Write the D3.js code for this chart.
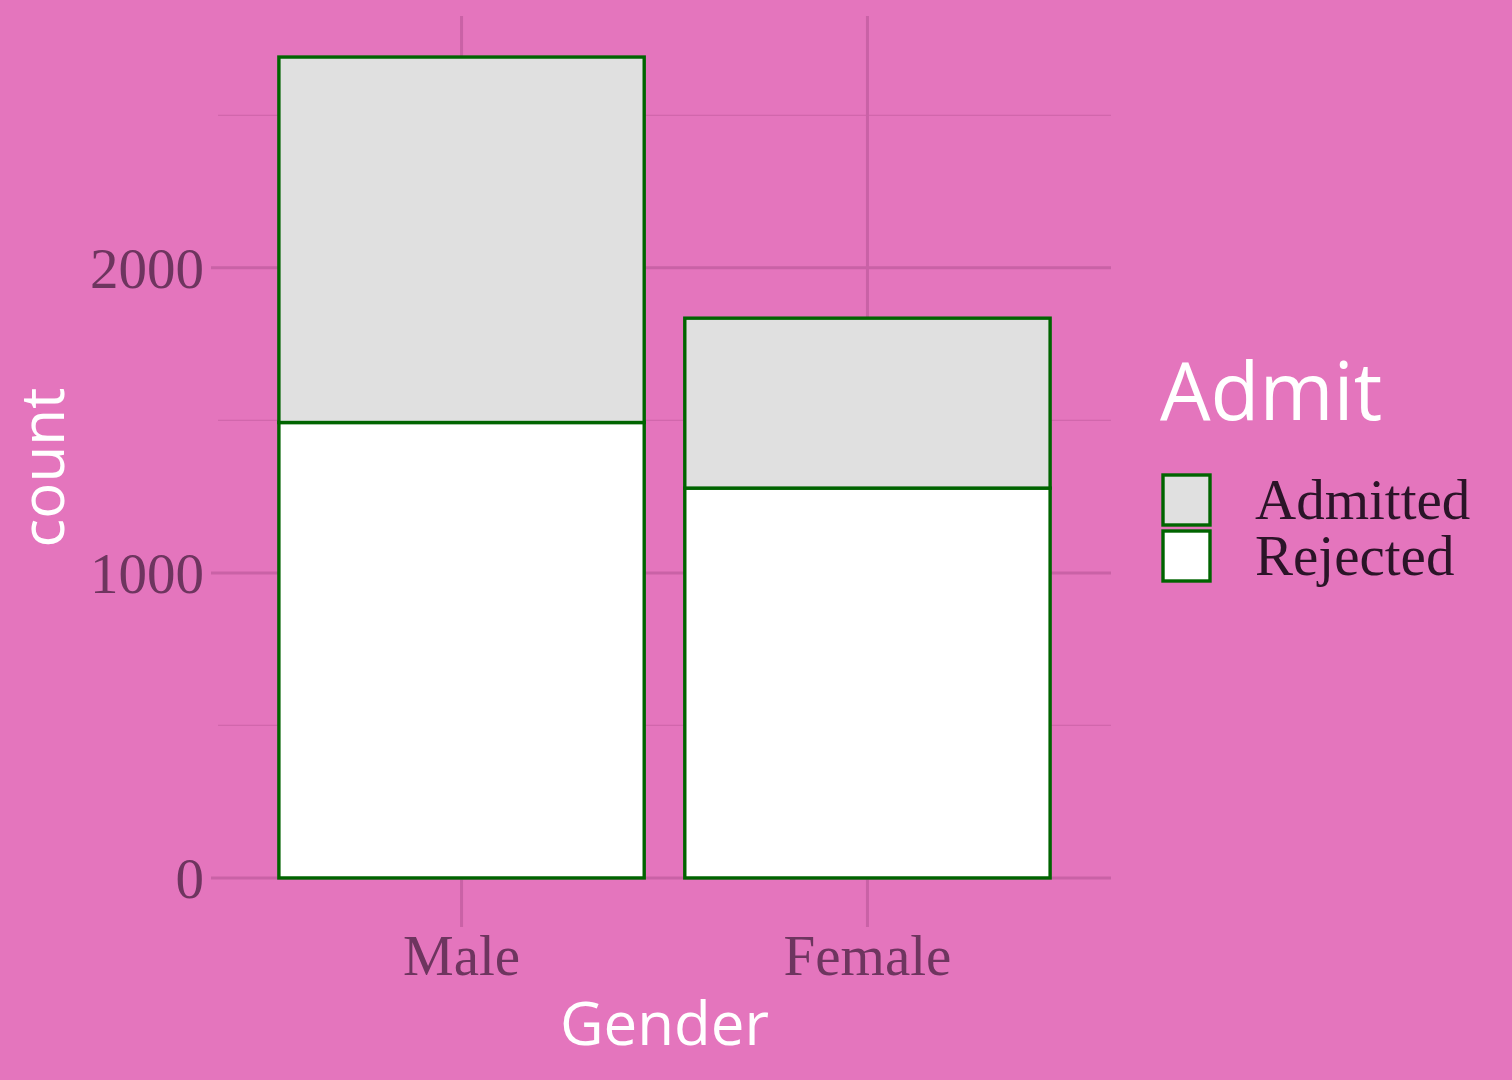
<!DOCTYPE html>
<html><head><meta charset="utf-8">
<script src="https://cdn.jsdelivr.net/npm/d3@7"></script>
<style>html,body{margin:0;padding:0;background:#E475BD;}</style>
</head><body>
<script>
const categories = ["Male", "Female"];
const admitLevels = ["Admitted", "Rejected"];
const admitted = [1198, 557];
const rejected = [1493, 1278];
const yTicks = [0, 1000, 2000];
const yMinor = [500, 1500, 2500];

const W = 1512, H = 1080;
const bg = "#E475BD", grid = "#C962A6", tickCol = "#6E355F";
const serif = "'Liberation Serif', 'DejaVu Serif', serif";
const sans = "'Open Sans', 'Noto Sans', sans-serif";

const svg = d3.select("body").append("svg").attr("width", W).attr("height", H);
svg.append("rect").attr("width", W).attr("height", H).attr("fill", bg);

const panel = {l: 218, r: 1111, t: 16, b: 919};
const totals = categories.map((c, i) => admitted[i] + rejected[i]);
const maxT = d3.max(totals);
const y = d3.scaleLinear().domain([-maxT * 0.05, maxT * 1.05]).range([panel.b, panel.t]);
const xi = d3.scaleLinear().domain([0.4, 2.6]).range([panel.l, panel.r]);
const bw = xi(1.45) - xi(0.55);

// minor grid
svg.append("g").selectAll("line").data(yMinor).join("line")
  .attr("x1", panel.l).attr("x2", panel.r).attr("y1", d => y(d)).attr("y2", d => y(d))
  .attr("stroke", grid).attr("stroke-width", 1.2).attr("opacity", 0.7);
// major grid + ticks
svg.append("g").selectAll("line").data(yTicks).join("line")
  .attr("x1", panel.l - 7).attr("x2", panel.r).attr("y1", d => y(d)).attr("y2", d => y(d))
  .attr("stroke", grid).attr("stroke-width", 3);
svg.append("g").selectAll("line").data(categories).join("line")
  .attr("x1", (d, i) => xi(i + 1)).attr("x2", (d, i) => xi(i + 1))
  .attr("y1", panel.t).attr("y2", panel.b + 8)
  .attr("stroke", grid).attr("stroke-width", 3);

// bars
const stacked = d3.stack().keys([1, 0])(categories.map((c, i) => ({0: admitted[i], 1: rejected[i], cat: c, i})));
const fills = {0: "#E0E0E0", 1: "#FFFFFF"};
stacked.forEach(layer => {
  svg.append("g").selectAll("rect").data(layer).join("rect")
    .attr("x", d => xi(d.data.i + 1) - bw / 2)
    .attr("width", bw)
    .attr("y", d => y(d[1]))
    .attr("height", d => y(d[0]) - y(d[1]))
    .attr("fill", fills[layer.key])
    .attr("stroke", "#006400").attr("stroke-width", 3.4);
});

// y tick labels
svg.append("g").selectAll("text").data(yTicks).join("text")
  .attr("x", panel.l - 14).attr("y", d => y(d)).attr("dy", "0.35em")
  .attr("text-anchor", "end").attr("fill", tickCol)
  .style("font-family", serif).style("font-size", "57px").text(d => d);
// x tick labels
svg.append("g").selectAll("text").data(categories).join("text")
  .attr("x", (d, i) => xi(i + 1)).attr("y", 975)
  .attr("text-anchor", "middle").attr("fill", tickCol)
  .style("font-family", serif).style("font-size", "57px").text(d => d);

// axis titles
svg.append("text").attr("x", xi(1.5)).attr("y", 1045).attr("text-anchor", "middle")
  .attr("fill", "#FFFFFF").style("font-family", sans).style("font-size", "60px").text("Gender");
svg.append("text").attr("transform", `translate(64,${y(maxT * 0.5)}) rotate(-90)`)
  .attr("text-anchor", "middle").attr("fill", "#FFFFFF")
  .style("font-family", sans).style("font-size", "60px").text("count");

// legend
svg.append("text").attr("x", 1160).attr("y", 420).attr("fill", "#FFFFFF")
  .style("font-family", sans).style("font-size", "80px").text("Admit");
const legFill = ["#E0E0E0", "#FFFFFF"];
const lg = svg.append("g").selectAll("g").data(admitLevels).join("g")
  .attr("transform", (d, i) => `translate(1163,${475 + i * 56})`);
lg.append("rect").attr("width", 47).attr("height", 50)
  .attr("fill", (d, i) => legFill[i]).attr("stroke", "#006400").attr("stroke-width", 3.4);
lg.append("text").attr("x", 92).attr("y", 44).attr("fill", "#2B1428")
  .style("font-family", serif).style("font-size", "57px").text(d => d);
</script>
</body></html>
